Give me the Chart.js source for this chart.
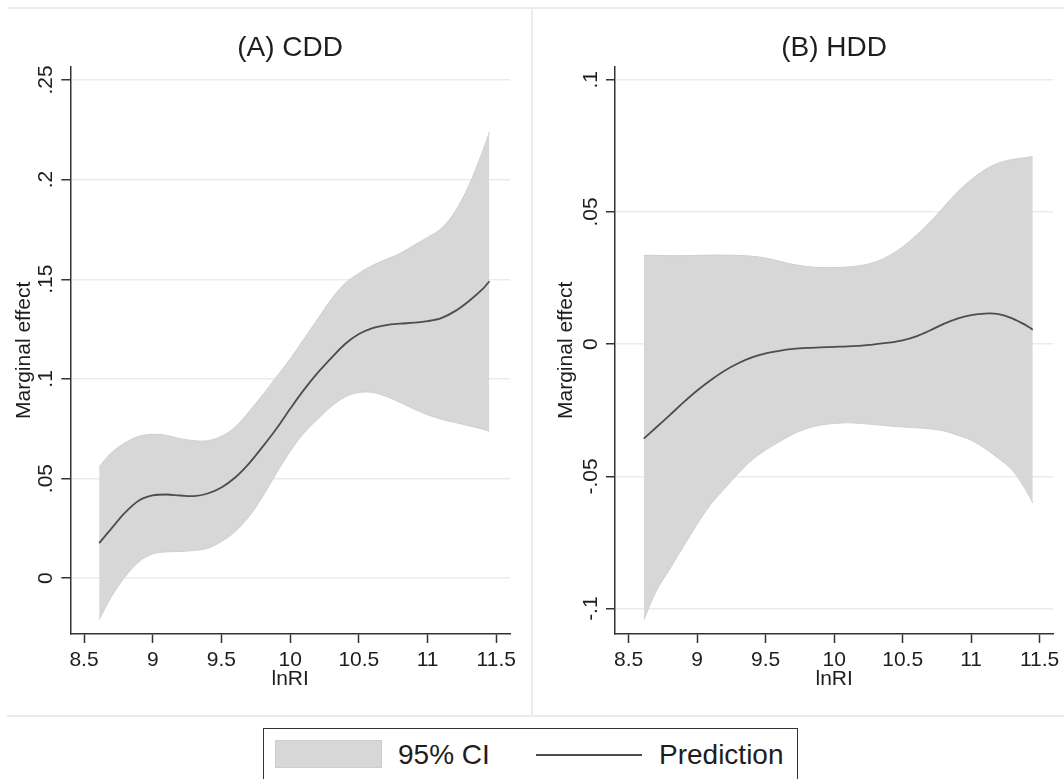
<!DOCTYPE html>
<html>
<head>
<meta charset="utf-8">
<script src="https://cdn.jsdelivr.net/npm/chart.js@4.4.1/dist/chart.umd.min.js"></script>
<style>
  body { margin: 0; background: #fff; font-family: 'Liberation Sans', Arial, sans-serif; }
  #page { position: relative; width: 1064px; height: 779px; overflow: hidden; background: #fff; }
  canvas { position: absolute; top: 8px; }
  #cA { left: 7px; }
  #cB { left: 532px; }
  .rule { position: absolute; background: #ececec; }
  #legend { position: absolute; left: 263px; top: 728px; width: 535px; height: 80px; border: 1.5px solid #333; box-sizing: border-box; }
  #legend div, #legend span { position: absolute; }
  .swatch { left: 11px; top: 11px; width: 107px; height: 28px; background: #d7d7d7; border: 1px solid #cdcdcd; box-sizing: border-box; }
  .ltext { font-size: 28px; line-height: 28px; color: #1e1e1e; top: 12px; white-space: nowrap; }
  .lline { left: 272px; top: 25px; width: 106px; height: 2px; background: #4d4d4d; }
</style>
</head>
<body>
<div id="page">
  <div class="rule" style="left:7px; top:7px; width:1057px; height:2px;"></div>
  <div class="rule" style="left:531px; top:8px; width:2px; height:708px;"></div>
  <div class="rule" style="left:7px; top:715px; width:1057px; height:2px;"></div>
  <canvas id="cA" width="525" height="708"></canvas>
  <canvas id="cB" width="532" height="708"></canvas>
  <div id="legend">
    <div class="swatch"></div>
    <span class="ltext" style="left:134px;">95% CI</span>
    <div class="lline"></div>
    <span class="ltext" style="left:395px;">Prediction</span>
  </div>
</div>
<script>
const lnRI = [8.61, 8.7, 8.8, 8.9, 9.0, 9.1, 9.2, 9.3, 9.4, 9.5, 9.6, 9.7, 9.8, 9.9, 10.0,
  10.1, 10.2, 10.3, 10.4, 10.5, 10.6, 10.7, 10.8, 10.9, 11.0, 11.1, 11.2, 11.3, 11.4, 11.45];

// (A) CDD
const cddPred = [0.0176, 0.025, 0.033, 0.039, 0.0415, 0.042, 0.0415, 0.0412, 0.0425, 0.0455, 0.0505,
  0.0575, 0.066, 0.075, 0.085, 0.0945, 0.103, 0.1105, 0.1175, 0.1225, 0.1255, 0.127, 0.1277, 0.1282,
  0.129, 0.1305, 0.134, 0.139, 0.145, 0.149];
const cddUpper = [0.056, 0.063, 0.068, 0.0712, 0.0722, 0.0717, 0.070, 0.069, 0.069, 0.0712, 0.0759,
  0.0835, 0.092, 0.101, 0.110, 0.120, 0.130, 0.140, 0.148, 0.153, 0.157, 0.160, 0.163, 0.167,
  0.171, 0.1755, 0.184, 0.197, 0.214, 0.224];
const cddLower = [-0.0209, -0.0092, 0.0008, 0.0083, 0.0122, 0.0132, 0.0134, 0.0139, 0.015, 0.0184,
  0.0234, 0.0309, 0.041, 0.0527, 0.0636, 0.0728, 0.0798, 0.0862, 0.0909, 0.0932, 0.0932, 0.0912,
  0.0882, 0.0849, 0.082, 0.0798, 0.0781, 0.0765, 0.0748, 0.0736];

// (B) HDD
const hddPred = [-0.0357, -0.0315, -0.0268, -0.022, -0.0175, -0.0135, -0.010, -0.0072, -0.005, -0.0035,
  -0.0025, -0.0018, -0.0014, -0.0012, -0.001, -0.0008, -0.0005, 0.0, 0.0006, 0.0015, 0.003,
  0.0052, 0.0077, 0.0097, 0.011, 0.0116, 0.0114, 0.0098, 0.0072, 0.0055];
const hddUpper = [0.0336, 0.0336, 0.0335, 0.0335, 0.0336, 0.0337, 0.0337, 0.0336, 0.0333, 0.0326,
  0.0314, 0.0302, 0.0294, 0.029, 0.029, 0.0292, 0.0298, 0.0311, 0.0334, 0.0368, 0.0412, 0.0462,
  0.0519, 0.0576, 0.0622, 0.066, 0.0685, 0.0699, 0.0706, 0.071];
const hddLower = [-0.1043, -0.0935, -0.085, -0.0765, -0.068, -0.0605, -0.0546, -0.0489, -0.0438, -0.04,
  -0.0369, -0.034, -0.0319, -0.0306, -0.03, -0.0297, -0.03, -0.0304, -0.0309, -0.0313, -0.0316,
  -0.032, -0.0328, -0.0344, -0.0363, -0.0394, -0.0432, -0.0476, -0.0552, -0.06];

const xTicks = [8.5, 9, 9.5, 10, 10.5, 11, 11.5];
const xTickLabels = ['8.5', '9', '9.5', '10', '10.5', '11', '11.5'];
const cddYTicks = [0, 0.05, 0.1, 0.15, 0.2, 0.25];
const cddYTickLabels = ['0', '.05', '.1', '.15', '.2', '.25'];
const hddYTicks = [-0.1, -0.05, 0, 0.05, 0.1];
const hddYTickLabels = ['-.1', '-.05', '0', '.05', '.1'];

const FONT = "'Liberation Sans', Arial, sans-serif";
const TEXT = '#1e1e1e';
const AXIS = '#333';

const pts = ys => ys.map((y, i) => ({ x: lnRI[i], y: y }));

function drawPanel(id, title, upper, lower, pred, yTicks, yLabels, yMin, yMax, lay) {
  new Chart(document.getElementById(id), {
    type: 'line',
    data: {
      datasets: [
        { label: '95% CI', data: pts(upper), fill: '+1', backgroundColor: '#d7d7d7', order: 2,
          borderColor: '#cfcfcf', borderWidth: 1, pointRadius: 0, tension: 0.35 },
        { label: 'lower', data: pts(lower), fill: false, order: 1,
          borderColor: '#cfcfcf', borderWidth: 1, pointRadius: 0, tension: 0.35 },
        // lowest order is drawn last, so the line sits on top of the band
        { label: 'Prediction', data: pts(pred), fill: false, order: 0,
          borderColor: '#4d4d4d', borderWidth: 1.8, pointRadius: 0, tension: 0.35 },
      ],
    },
    options: {
      responsive: false,
      animation: false,
      layout: { padding: { left: 0, right: lay.right, top: 0, bottom: 23.7 } },
      plugins: {
        legend: { display: false },
        tooltip: { enabled: false },
        title: {
          display: true, text: title, fullSize: false, color: TEXT,
          font: { family: FONT, size: 28, weight: 'normal' },
          padding: { top: 23, bottom: 2 },
        },
      },
      scales: {
        x: {
          type: 'linear', min: 8.4, max: 11.6,
          afterBuildTicks: s => { s.ticks = xTicks.map(v => ({ value: v })); },
          afterFit: s => { s.height = 58.3; },
          ticks: {
            callback: (v, i) => xTickLabels[i], color: TEXT, autoSkip: false, maxRotation: 0,
            font: { family: FONT, size: 21 }, padding: 4.4,
          },
          grid: { drawOnChartArea: false, tickLength: 9, tickColor: AXIS, tickWidth: 1.5 },
          border: { color: AXIS, width: 1.5 },
          title: { display: true, text: 'lnRI', color: TEXT, font: { family: FONT, size: 21 }, padding: 0 },
        },
        y: {
          min: yMin, max: yMax,
          afterBuildTicks: s => { s.ticks = yTicks.map(v => ({ value: v })); },
          afterFit: s => { s.width = lay.yWidth; s.paddingTop = 0; s.paddingBottom = 0; },
          ticks: {
            callback: (v, i) => yLabels[i], color: TEXT, autoSkip: false,
            minRotation: 90, maxRotation: 90, crossAlign: 'center', padding: lay.yPad,
            font: { family: FONT, size: 21 },
          },
          grid: { color: '#ebebeb', lineWidth: 1.5, tickLength: 9, tickColor: AXIS, tickWidth: 1.5 },
          border: { color: AXIS, width: 1.5 },
          title: {
            display: true, text: 'Marginal effect', color: TEXT,
            font: { family: FONT, size: 21 }, padding: { top: lay.titlePad, bottom: 0 },
          },
        },
      },
    },
  });
}

drawPanel('cA', '(A) CDD', cddUpper, cddLower, cddPred, cddYTicks, cddYTickLabels, -0.028, 0.2567,
  { right: 22, yWidth: 63.3, yPad: 0.4, titlePad: 4.4 });
drawPanel('cB', '(B) HDD', hddUpper, hddLower, hddPred, hddYTicks, hddYTickLabels, -0.1096, 0.105,
  { right: 9, yWidth: 83, yPad: -3.1, titlePad: 21.4 });
</script>
</body>
</html>
